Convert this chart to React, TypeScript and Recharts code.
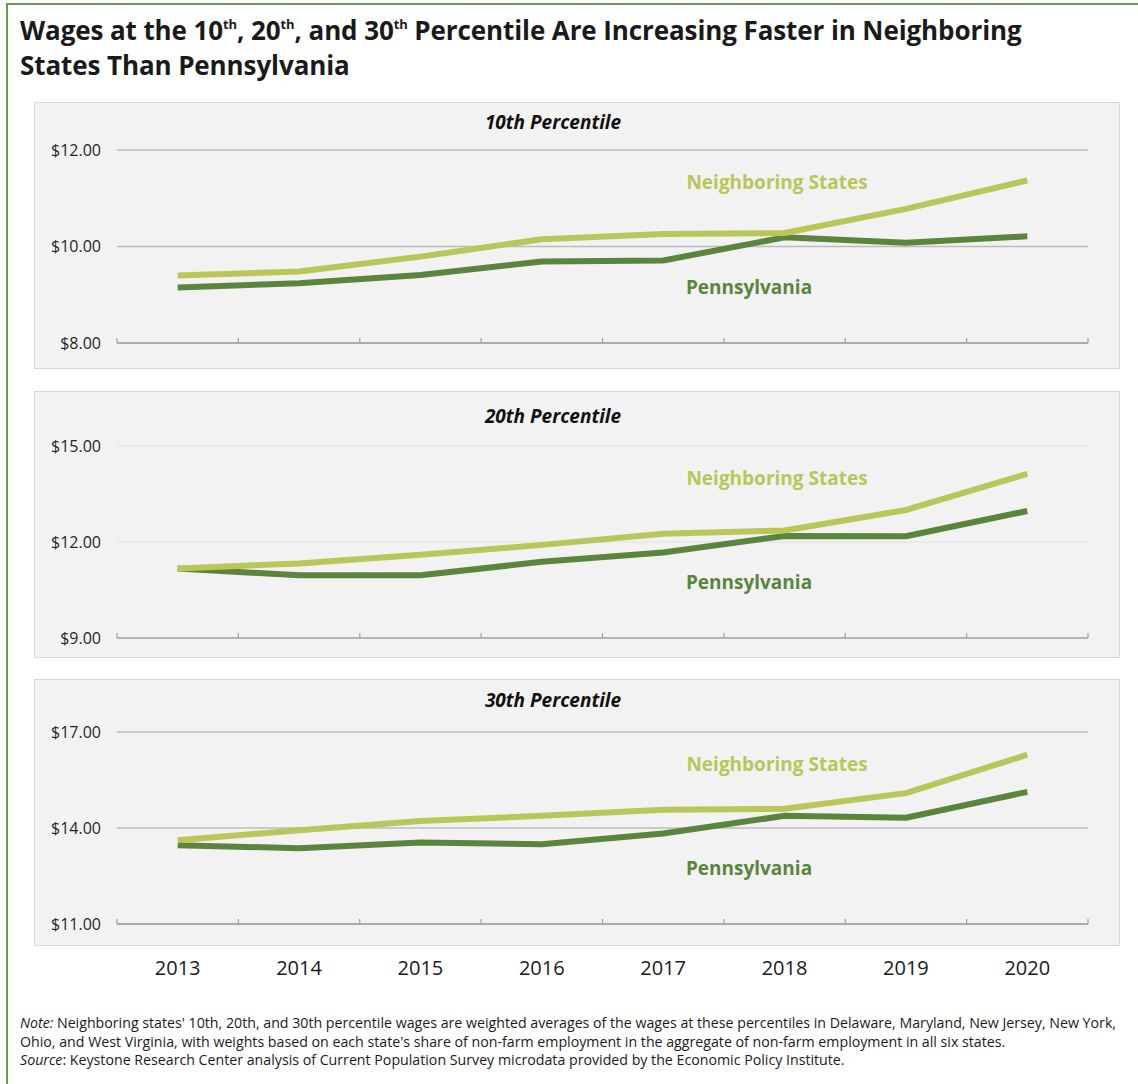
import React from 'react';
import { LineChart, Line, XAxis, YAxis, CartesianGrid } from 'recharts';

const years = ['2013', '2014', '2015', '2016', '2017', '2018', '2019', '2020'];

const p10Neighboring = [9.4, 9.48, 9.79, 10.15, 10.26, 10.28, 10.78, 11.37];
const p10Pennsylvania = [9.15, 9.24, 9.41, 9.69, 9.71, 10.19, 10.08, 10.21];
const p20Neighboring = [11.17, 11.33, 11.6, 11.91, 12.26, 12.36, 13.0, 14.13];
const p20Pennsylvania = [11.17, 10.96, 10.96, 11.38, 11.67, 12.19, 12.18, 12.97];
const p30Neighboring = [13.62, 13.93, 14.22, 14.38, 14.57, 14.6, 15.09, 16.29];
const p30Pennsylvania = [13.46, 13.37, 13.55, 13.49, 13.83, 14.38, 14.32, 15.13];

const p10Ticks = [8, 10, 12];
const p20Ticks = [9, 12, 15];
const p30Ticks = [11, 14, 17];

const boundaryTicks = years.map((_, i) => i).concat([years.length]);
const centerTicks = years.map((_, i) => i + 0.5);

const NS_COLOR = '#bac55a';
const PA_COLOR = '#5b853d';
const FONT = '"Open Sans", "Noto Sans", sans-serif';

type PanelProps = {
  title: string;
  ns: number[];
  pa: number[];
  ticks: number[];
  top: number;
  chartHeight: number;
  marginTop: number;
  marginBottom: number;
  showYears: boolean;
  gridColor: string;
  titleY: number;
  nsY: number;
  paY: number;
};

const PANEL_LEFT = 34;
const PANEL_W = 1086;
const PANEL_H = 267;

function Panel(p: PanelProps) {
  const data = years.map((y, i) => ({ year: y, pos: i + 0.5, ns: p.ns[i], pa: p.pa[i] }));
  return (
    <>
      <div
        style={{
          position: 'absolute',
          left: PANEL_LEFT,
          top: p.top,
          width: PANEL_W,
          height: PANEL_H,
          boxSizing: 'border-box',
          background: '#f2f2f2',
          border: '1px solid #d9d9d9',
        }}
      />
      <div style={{ position: 'absolute', left: PANEL_LEFT, top: p.top }}>
        <LineChart
          width={PANEL_W}
          height={p.chartHeight}
          data={data}
          margin={{ top: p.marginTop, right: 32, bottom: p.marginBottom, left: 0 }}
        >
          <CartesianGrid xAxisId="x" vertical={false} stroke={p.gridColor} strokeWidth={1.3} />
          <XAxis
            xAxisId="x"
            dataKey="pos"
            type="number"
            domain={[0, years.length]}
            ticks={boundaryTicks}
            interval={0}
            tickFormatter={() => ''}
            mirror
            height={1}
            tickSize={5}
            tickMargin={0}
            axisLine={{ stroke: '#a0a0a0', strokeWidth: 1.5 }}
            tickLine={{ stroke: '#a0a0a0', strokeWidth: 1.2 }}
          />
          {p.showYears && (
            <XAxis
              xAxisId="lab"
              dataKey="pos"
              type="number"
              domain={[0, years.length]}
              ticks={centerTicks}
              interval={0}
              tickFormatter={(v: number) => years[Math.round(v - 0.5)]}
              axisLine={false}
              tickLine={false}
              tickSize={0}
              tickMargin={37}
              height={30}
              tick={{ fill: '#1a1a1a', fontSize: 20, fontFamily: FONT }}
            />
          )}
          <YAxis
            domain={[p.ticks[0], p.ticks[p.ticks.length - 1]]}
            ticks={p.ticks}
            interval={0}
            width={83}
            axisLine={false}
            tickLine={false}
            tickSize={0}
            tickMargin={16}
            tickFormatter={(v: number) => `$${v.toFixed(2)}`}
            tick={{ fill: '#262626', fontSize: 16, fontFamily: FONT }}
          />
          <Line
            xAxisId="x"
            dataKey="pa"
            stroke={PA_COLOR}
            strokeWidth={6}
            dot={false}
            strokeLinejoin="round"
            isAnimationActive={false}
          />
          <Line
            xAxisId="x"
            dataKey="ns"
            stroke={NS_COLOR}
            strokeWidth={6}
            dot={false}
            strokeLinejoin="round"
            isAnimationActive={false}
          />
        </LineChart>
      </div>
      <div
        style={{
          position: 'absolute',
          left: 353,
          width: 400,
          top: p.top + p.titleY - 14,
          height: 28,
          lineHeight: '28px',
          textAlign: 'center',
          fontFamily: FONT,
          fontStyle: 'italic',
          fontWeight: 700,
          fontSize: 19,
          color: '#111',
        }}
      >
        {p.title}
      </div>
      <div
        style={{
          position: 'absolute',
          left: 577,
          width: 400,
          top: p.top + p.nsY - 14,
          height: 28,
          lineHeight: '28px',
          textAlign: 'center',
          fontFamily: FONT,
          fontWeight: 700,
          fontSize: 19,
          color: NS_COLOR,
        }}
      >
        Neighboring States
      </div>
      <div
        style={{
          position: 'absolute',
          left: 549,
          width: 400,
          top: p.top + p.paY - 14,
          height: 28,
          lineHeight: '28px',
          textAlign: 'center',
          fontFamily: FONT,
          fontWeight: 700,
          fontSize: 19,
          color: PA_COLOR,
        }}
      >
        Pennsylvania
      </div>
    </>
  );
}

const supStyle: React.CSSProperties = { fontSize: 13, verticalAlign: 'top', lineHeight: '22px' };

export default function App() {
  return (
    <div
      style={{
        position: 'absolute',
        left: 0,
        top: 0,
        width: 1138,
        height: 1084,
        overflow: 'hidden',
        background: '#fff',
        fontFamily: FONT,
      }}
    >
      <div
        style={{
          position: 'absolute',
          left: 6,
          top: 3,
          width: 1200,
          height: 1200,
          border: '2px solid #6f9a4f',
        }}
      />
      <div
        style={{
          position: 'absolute',
          left: 20,
          top: 13,
          width: 1115,
          fontSize: 26,
          fontWeight: 700,
          lineHeight: '35px',
          color: '#1a1a1a',
          letterSpacing: -0.1,
          whiteSpace: 'nowrap',
        }}
      >
        Wages at the 10<sup style={supStyle}>th</sup>, 20<sup style={supStyle}>th</sup>, and 30
        <sup style={supStyle}>th</sup> Percentile Are Increasing Faster in Neighboring
        <br />
        States Than Pennsylvania
      </div>

      <Panel
        title="10th Percentile"
        ns={p10Neighboring}
        pa={p10Pennsylvania}
        ticks={p10Ticks}
        top={102}
        chartHeight={267}
        marginTop={48}
        marginBottom={26}
        showYears={false}
        gridColor="#bcbcbc"
        titleY={20}
        nsY={80}
        paY={185}
      />
      <Panel
        title="20th Percentile"
        ns={p20Neighboring}
        pa={p20Pennsylvania}
        ticks={p20Ticks}
        top={391}
        chartHeight={267}
        marginTop={55}
        marginBottom={20}
        showYears={false}
        gridColor="#e6e6e6"
        titleY={25}
        nsY={87}
        paY={191}
      />
      <Panel
        title="30th Percentile"
        ns={p30Neighboring}
        pa={p30Pennsylvania}
        ticks={p30Ticks}
        top={679}
        chartHeight={320}
        marginTop={53}
        marginBottom={45}
        showYears={true}
        gridColor="#bcbcbc"
        titleY={21}
        nsY={85}
        paY={189}
      />

      <div
        style={{
          position: 'absolute',
          left: 20,
          top: 1014,
          width: 1118,
          fontSize: 14.2,
          lineHeight: '18.5px',
          color: '#1a1a1a',
          whiteSpace: 'nowrap',
        }}
      >
        <i>Note:</i> Neighboring states' 10th, 20th, and 30th percentile wages are weighted averages of the wages at these
        percentiles in Delaware, Maryland, New Jersey, New York,
        <br />
        Ohio, and West Virginia, with weights based on each state's share of non-farm employment in the aggregate of
        non-farm employment in all six states.
        <br />
        <i>Source</i>: Keystone Research Center analysis of Current Population Survey microdata provided by the Economic
        Policy Institute.
      </div>
    </div>
  );
}
